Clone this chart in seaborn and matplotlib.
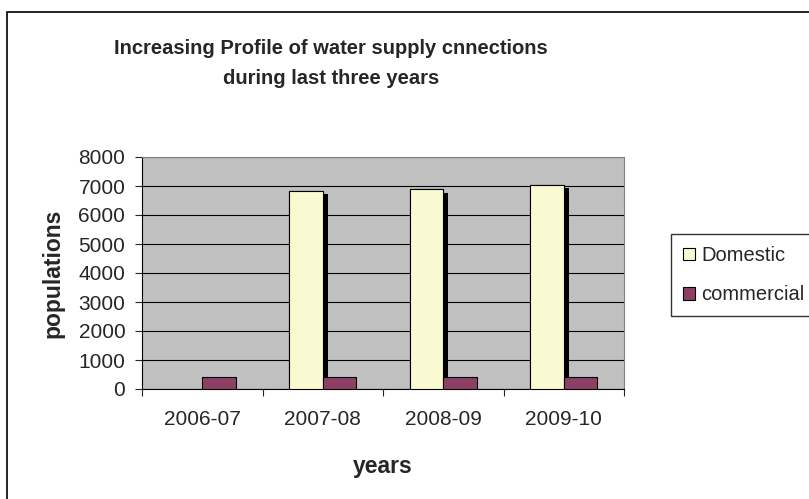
import pandas as pd
import seaborn as sns
import matplotlib.pyplot as plt
import matplotlib.patheffects as pe
from matplotlib.patches import Rectangle

# values
years = ["2006-07", "2007-08", "2008-09", "2009-10"]
domestic = [float("nan"), 6820, 6880, 7030]
commercial = [400, 400, 400, 400]
series_names = ["Domestic", "commercial"]
colors = ["#FFFFCC", "#993366"]

df = pd.DataFrame({
    "years": years * 2,
    "value": domestic + commercial,
    "series": [series_names[0]] * len(years) + [series_names[1]] * len(years),
})

sns.set_style("white")
plt.rcParams["font.family"] = ["Liberation Sans", "DejaVu Sans"]

fig = plt.figure(figsize=(8.09, 4.99), dpi=100)
ax = fig.add_axes([142 / 809, 1 - 389 / 499, (624 - 142) / 809, (389 - 157) / 499])

sns.barplot(data=df, x="years", y="value", hue="series", palette=colors,
            width=0.56, edgecolor="black", linewidth=0.8, ax=ax, zorder=3)

# black drop shadow on the Domestic bars, like the original
for bar in ax.containers[0]:
    bar.set_path_effects([pe.withSimplePatchShadow(offset=(3.6, -2.2), shadow_rgbFace="black", alpha=1.0),
                          pe.Normal()])

ax.set_facecolor("#C0C0C0")
ax.set_ylim(0, 8000)
ax.set_xlim(-0.5, 3.5)
ax.set_yticks(range(0, 8001, 1000))
ax.yaxis.grid(True, color="black", linewidth=0.8, zorder=1)
ax.set_axisbelow(True)
ax.tick_params(axis="y", direction="out", length=5, width=0.8, labelsize=15, left=True, pad=7)
ax.tick_params(axis="x", which="major", length=0, labelsize=15, pad=15)
ax.set_xticks([-0.5, 0.5, 1.5, 2.5, 3.5], minor=True)
ax.tick_params(axis="x", which="minor", direction="out", length=5, width=0.8, bottom=True)

for side in ["left", "bottom"]:
    ax.spines[side].set_color("black")
    ax.spines[side].set_linewidth(0.8)
for side in ["top", "right"]:
    ax.spines[side].set_color("#808080")
    ax.spines[side].set_linewidth(0.8)

ax.set_xlabel("years", fontsize=16.5, fontweight="bold", labelpad=19)
ax.set_ylabel("populations", fontsize=16.5, fontweight="bold", labelpad=10)

fig.text(331 / 809, 1 - 63.5 / 499, "Increasing Profile of water supply cnnections\nduring last three years",
         ha="center", va="center", fontsize=14.5, fontweight="bold", linespacing=1.8)

ax.get_legend().remove()
handles, labels = ax.get_legend_handles_labels()
leg = fig.legend(handles, labels, loc="upper left", bbox_to_anchor=(671 / 809, 1 - 234 / 499),
                 bbox_transform=fig.transFigure, frameon=True, fancybox=False,
                 fontsize=14.5, handlelength=0.6, handleheight=0.6, handletextpad=0.3,
                 labelspacing=1.0, borderpad=0.6, borderaxespad=0)
leg.get_frame().set_edgecolor("black")
leg.get_frame().set_linewidth(1.0)

# outer chart-area border (runs off the right and bottom edges)
fig.patches.append(Rectangle((7.5 / 809, -0.1), 1.0, (499 - 12) / 499 + 0.1, transform=fig.transFigure,
                             fill=False, edgecolor="black", linewidth=1.2, figure=fig))

plt.savefig("out.png", dpi=100)
